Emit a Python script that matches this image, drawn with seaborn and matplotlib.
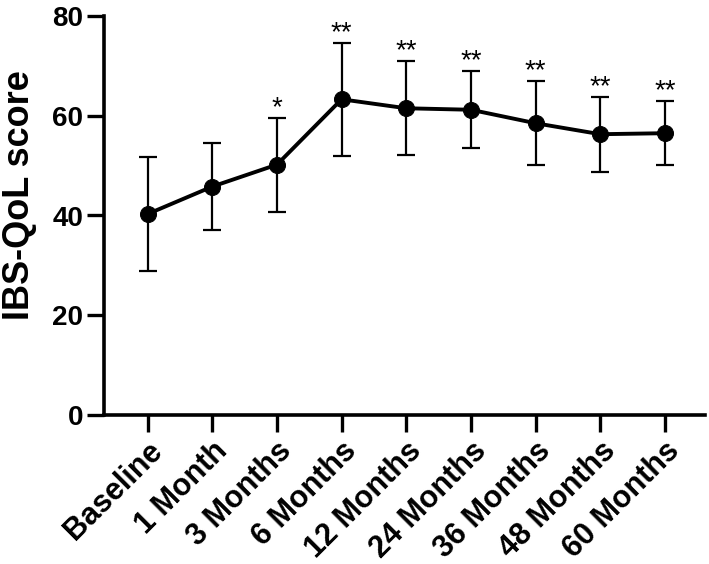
import seaborn as sns
from matplotlib import pyplot as plt
import numpy as np
import pandas as pd

timepoints = ['Baseline', '1 Month', '3 Months', '6 Months', '12 Months',
              '24 Months', '36 Months', '48 Months', '60 Months']
qol_mean = [40.3, 45.8, 50.2, 63.3, 61.5, 61.2, 58.5, 56.3, 56.5]
qol_sd = [11.4, 8.7, 9.4, 11.3, 9.4, 7.7, 8.4, 7.5, 6.4]
signif = ['', '', '*', '**', '**', '**', '**', '**', '**']

sns.set_style('ticks')
plt.rcParams['font.family'] = ['Liberation Sans', 'DejaVu Sans']
plt.rcParams['text.color'] = 'black'
plt.rcParams['axes.labelcolor'] = 'black'
plt.rcParams['xtick.color'] = 'black'
plt.rcParams['ytick.color'] = 'black'
plt.rcParams['axes.edgecolor'] = 'black'

df = pd.DataFrame({'x': np.arange(len(timepoints)), 'score': qol_mean})

fig = plt.figure(figsize=(7.09, 5.64), dpi=100)
ax = fig.add_axes([104 / 709, 1 - 415 / 564, 601 / 709, 399 / 564])

ax.errorbar(df['x'], df['score'], yerr=qol_sd, fmt='none', ecolor='black',
            elinewidth=1.6, capsize=6.5, capthick=1.6, zorder=2)
sns.lineplot(data=df, x='x', y='score', color='black', linewidth=2.8,
             marker='o', markersize=11.5, markeredgecolor='black', ax=ax, zorder=3)

for i, s in enumerate(signif):
    if s:
        ax.text(i, qol_mean[i] + qol_sd[i] + 0.6, s, ha='center', va='baseline',
                fontsize=20, color='black')

ax.set_xlim(-0.675, 8.62)
ax.set_ylim(0, 80)
ax.set_yticks([0, 20, 40, 60, 80])
ax.set_xticks(df['x'])
ax.set_xticklabels(timepoints, rotation=45, ha='right', rotation_mode='anchor')
ax.tick_params(axis='both', width=2.4, length=12, pad=3)
ax.tick_params(axis='x', labelsize=22)
ax.tick_params(axis='y', labelsize=20)
for lab in ax.get_xticklabels() + ax.get_yticklabels():
    lab.set_fontweight('bold')
ax.set_xlabel('')
ax.set_ylabel('IBS-QoL score', fontsize=26, fontweight='bold')
ax.yaxis.set_label_coords(-0.112, 0.55)
for sp in ['left', 'bottom']:
    ax.spines[sp].set_linewidth(2.6)
sns.despine(ax=ax)

fig.savefig('out.png', dpi=100)
